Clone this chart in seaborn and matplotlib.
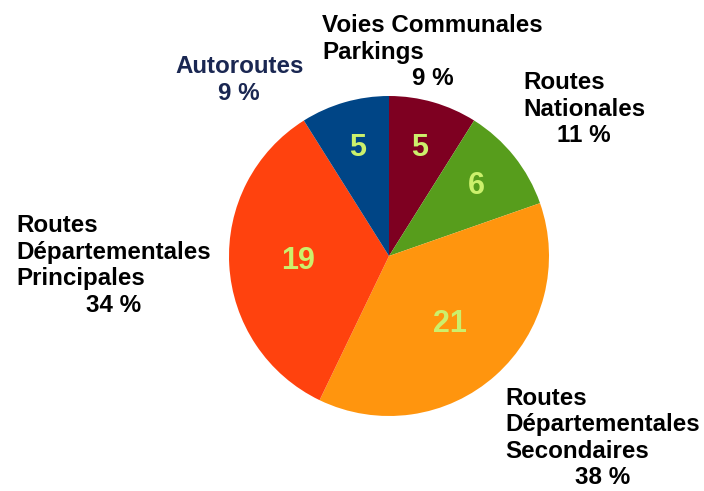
import numpy as np
import matplotlib
matplotlib.use("Agg")
import matplotlib.pyplot as plt
import seaborn as sns

# Road network share by category
categories = [
    "Voies Communales\nParkings",
    "Routes\nNationales",
    "Routes\nDépartementales\nSecondaires",
    "Routes\nDépartementales\nPrincipales",
    "Autoroutes",
]
values = [5, 6, 21, 19, 5]
slice_colors = ["#7e0021", "#579d1c", "#ff950e", "#ff420e", "#004586"]

sns.set_theme(style="white")
plt.rcParams["font.family"] = ["Liberation Sans", "DejaVu Sans"]

W, H = 704, 491
fig = plt.figure(figsize=(W / 100, H / 100), dpi=100)
ax = fig.add_axes([0, 0, 1, 1])


def yy(y_img):
    """Convert a top-down pixel row into the axes' bottom-up coordinate."""
    return H - y_img


cx, cy, R = 389, yy(256), 160
wedges, _ = ax.pie(values, colors=slice_colors, startangle=90, counterclock=False,
                   center=(cx, cy), radius=R,
                   wedgeprops=dict(linewidth=0))
ax.set_xlim(0, W)
ax.set_ylim(0, H)
ax.set_aspect("equal")
ax.axis("off")

total = sum(values)

# value labels inside the slices
inner_dist = [0.70, 0.70, 0.57, 0.57, 0.70]
cum = 0
for v, d in zip(values, inner_dist):
    theta = np.deg2rad(90 - (cum + v / 2) / total * 360)
    cum += v
    ax.text(cx + d * R * np.cos(theta), cy + d * R * np.sin(theta), f"{v}",
            ha="center", va="center", fontsize=22, fontweight="bold",
            color="#ccf06c")

# outer category labels: name lines left aligned, percentage centred beneath
label_pos = [(322, 32), (523, 89), (505, 405), (16, 232), (175, 73)]
label_colors = ["black", "black", "black", "black", "#1a2752"]
line_step = 26.5
fig.canvas.draw()
renderer = fig.canvas.get_renderer()
for name, v, (x0, b0), col in zip(categories, values, label_pos, label_colors):
    lines = name.split("\n")
    widths = []
    for i, ln in enumerate(lines):
        t = ax.text(x0, yy(b0 + i * line_step), ln, ha="left", va="baseline",
                    fontsize=17.4, fontweight="bold", color=col)
        widths.append(t.get_window_extent(renderer).width)
    pct = f"{round(v / total * 100)} %"
    step = line_step if b0 < 400 else 25.5
    ax.text(x0 + max(widths) / 2, yy(b0 + (len(lines) - 1) * line_step + step), pct,
            ha="center", va="baseline", fontsize=17.4, fontweight="bold", color=col)

fig.savefig("out.png", dpi=100)
